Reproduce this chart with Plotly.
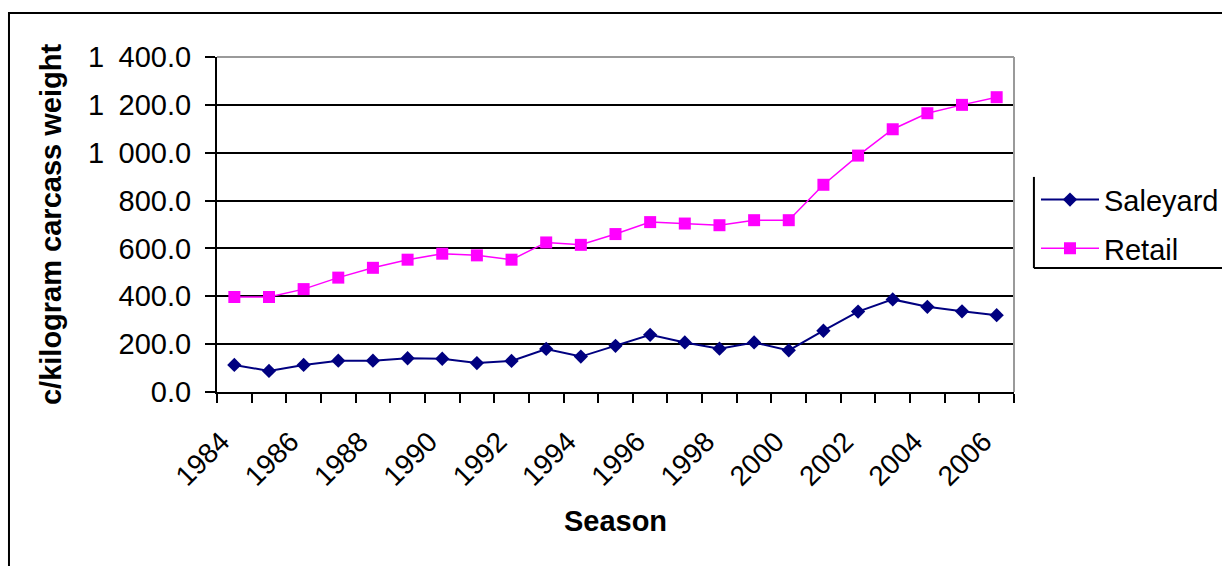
import plotly.graph_objects as go

# Season (year) categories
seasons = [1984, 1985, 1986, 1987, 1988, 1989, 1990, 1991, 1992, 1993, 1994, 1995,
           1996, 1997, 1998, 1999, 2000, 2001, 2002, 2003, 2004, 2005, 2006]

# Prices in c/kg carcass weight
saleyard = [113, 88, 113, 131, 131, 141, 139, 121, 130, 180, 148, 193,
            239, 207, 181, 207, 174, 256, 336, 387, 356, 337, 321]
retail = [397, 397, 430, 478, 519, 553, 578, 571, 553, 625, 615, 660,
          710, 704, 697, 718, 718, 866, 988, 1098, 1165, 1200, 1232]

# Axis labelling
x_tick_years = [1984, 1986, 1988, 1990, 1992, 1994, 1996, 1998, 2000, 2002, 2004, 2006]
x_tick_labels = ["1984", "1986", "1988", "1990", "1992", "1994", "1996", "1998",
                 "2000", "2002", "2004", "2006"]
y_tick_values = [0, 200, 400, 600, 800, 1000, 1200, 1400]
y_tick_labels = ["0.0", "200.0", "400.0", "600.0", "800.0",
                 "1\u2002000.0", "1\u2002200.0", "1\u2002400.0"]

FONT = "Liberation Sans, Arial, sans-serif"

fig = go.Figure()
fig.add_trace(go.Scatter(
    x=seasons, y=saleyard, name="Saleyard", mode="lines+markers",
    legendgroup="saleyard",
    line=dict(color="#000080", width=2),
    marker=dict(symbol="diamond", size=11, color="#000080"),
))
fig.add_trace(go.Scatter(
    x=seasons, y=retail, name="Retail", mode="lines+markers",
    legendgroup="retail",
    line=dict(color="#FF00FF", width=1.5),
    marker=dict(symbol="square", size=12, color="#FF00FF"),
))

# category boundaries for the small tick marks on the season axis
boundaries = [s - 0.5 for s in seasons] + [seasons[-1] + 0.5]

fig.update_layout(
    width=1222, height=566,
    margin=dict(l=217, r=208, t=57, b=174, autoexpand=False),
    paper_bgcolor="white", plot_bgcolor="white",
    font=dict(family=FONT, size=29, color="black"),
    showlegend=True,
    legend=dict(
        x=1.0276, y=0.65, xanchor="left", yanchor="top",
        font=dict(family=FONT, size=29, color="black"),
        bgcolor="rgba(0,0,0,0)", borderwidth=0,
        itemwidth=58, tracegroupgap=8,
    ),
    xaxis=dict(
        range=[seasons[0] - 0.5, seasons[-1] + 0.5],
        tickmode="array", tickvals=x_tick_years, ticktext=x_tick_labels,
        tickangle=-45, ticks="", ticklabelstandoff=20, ticklabelshift=-13,
        tickfont=dict(family=FONT, size=28, color="black"),
        showgrid=False, zeroline=False,
        showline=True, linecolor="black", linewidth=2,
        minor=dict(tickmode="array", tickvals=boundaries, ticks="outside",
                   ticklen=9, tickwidth=2, tickcolor="black", showgrid=False),
        title=dict(text="Season", standoff=20,
                   font=dict(family=FONT, size=29, color="black", weight="bold")),
    ),
    yaxis=dict(
        range=[0, 1400],
        tickmode="array", tickvals=y_tick_values, ticktext=y_tick_labels,
        ticks="outside", ticklen=10, tickwidth=2, tickcolor="black",
        ticklabelstandoff=8,
        tickfont=dict(family=FONT, size=29, color="black"),
        showgrid=True, gridcolor="black", gridwidth=2,
        zeroline=False,
        showline=True, linecolor="black", linewidth=2,
        title=dict(text="c/kilogram carcass weight", standoff=18,
                   font=dict(family=FONT, size=29, color="black", weight="bold")),
    ),
    shapes=[
        # plot-area border (top, right)
        dict(type="line", xref="paper", yref="paper", x0=0, x1=1, y0=1, y1=1,
             line=dict(color="#9a9a9a", width=2), layer="above"),
        dict(type="line", xref="paper", yref="paper", x0=1, x1=1, y0=0, y1=1,
             line=dict(color="#9a9a9a", width=2), layer="above"),
        # legend frame (left, bottom)
        dict(type="line", xref="paper", yref="paper", x0=1.025, x1=1.025,
             y0=0.370, y1=0.642, line=dict(color="black", width=2)),
        dict(type="line", xref="paper", yref="paper", x0=1.025, x1=1.35,
             y0=0.370, y1=0.370, line=dict(color="black", width=2)),
        # chart frame
        dict(type="rect", xref="paper", yref="paper", x0=-0.261, x1=1.35,
             y0=-0.7, y1=1.1313, line=dict(color="black", width=2)),
    ],
)

fig.write_html("out.html")
